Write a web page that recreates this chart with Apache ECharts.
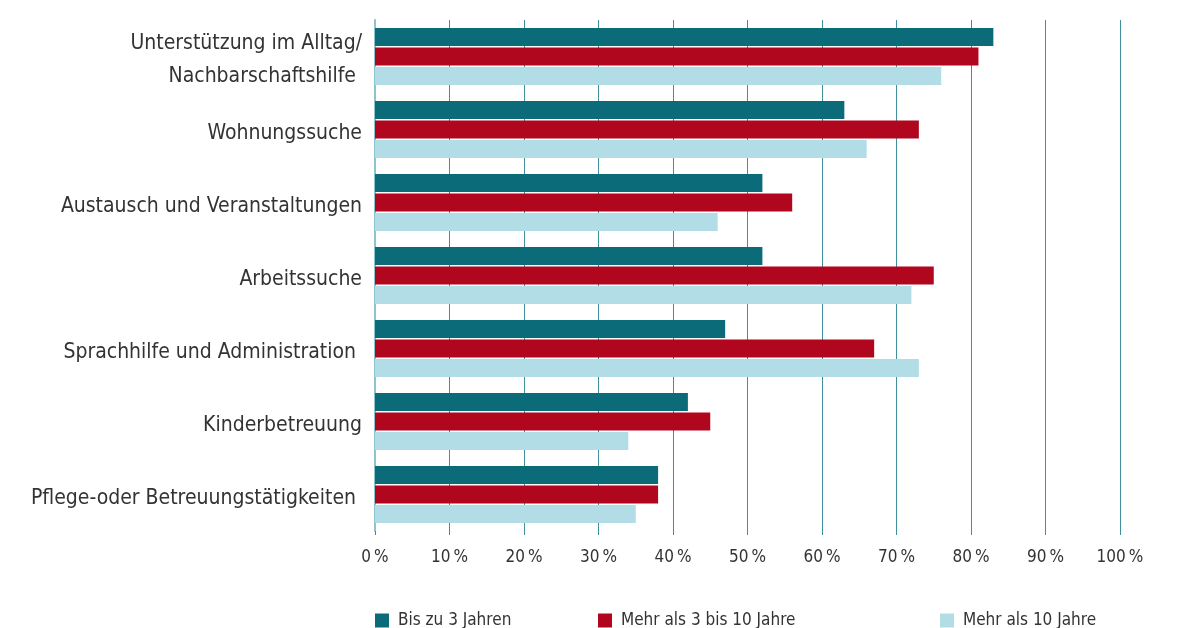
<!DOCTYPE html>
<html>
<head>
<meta charset="utf-8">
<script src="https://cdn.jsdelivr.net/npm/echarts@6/dist/echarts.min.js"></script>
<style>
  html, body { margin: 0; padding: 0; background: #fff; }
  #chart { width: 1177px; height: 628px; }
</style>
</head>
<body>
<div id="chart"></div>
<script>
const categories = [
  "Unterstützung im Alltag/\nNachbarschaftshilfe ",
  "Wohnungssuche",
  "Austausch und Veranstaltungen",
  "Arbeitssuche",
  "Sprachhilfe und Administration ",
  "Kinderbetreuung",
  "Pflege-oder Betreuungstätigkeiten "
]
const seriesNames = ["Bis zu 3 Jahren", "Mehr als 3 bis 10 Jahre", "Mehr als 10 Jahre"]
const bisZu3 = [83, 63, 52, 52, 47, 42, 38]
const mehr3bis10 = [81, 73, 56, 75, 67, 45, 38]
const mehr10 = [76, 66, 46, 72, 73, 34, 35]
const xTicks = [0, 10, 20, 30, 40, 50, 60, 70, 80, 90, 100]

const colors = ["#0b6b78", "#b0061e", "#b2dde7"]
const font = "'Liberation Sans Narrow', 'DejaVu Sans Condensed', sans-serif"

const chart = echarts.init(document.getElementById("chart"))

const legendBase = {
  top: 607,
  itemWidth: 14,
  itemHeight: 14,
  icon: "rect",
  selectedMode: false,
  textStyle: { fontFamily: font, fontSize: 17, color: "#333", padding: [0, 0, 0, 4] }
}

const options = {
  animation: false,
  grid: {
    left: 375,
    right: 57,
    top: 20,
    height: 511,
    containLabel: false
  },
  legend: [
    Object.assign({}, legendBase, { left: 370, data: [seriesNames[0]] }),
    Object.assign({}, legendBase, { left: 593, data: [seriesNames[1]] }),
    Object.assign({}, legendBase, { left: 935, data: [seriesNames[2]] })
  ],
  xAxis: {
    type: "value",
    min: 0,
    max: 100,
    interval: 10,
    axisLine: { show: false },
    axisTick: { show: true, length: 4, lineStyle: { color: "#3f8f9e" } },
    splitLine: { show: true, lineStyle: { color: "#3f8f9e", width: 1 } },
    axisLabel: {
      margin: 18,
      fontFamily: font,
      fontSize: 17,
      color: "#333",
      formatter: (v) => (xTicks.includes(v) ? v + "\u2009%" : "")
    }
  },
  yAxis: {
    type: "category",
    inverse: true,
    data: categories,
    axisLine: { show: true, lineStyle: { color: "#8fc3cc", width: 2 } },
    axisTick: { show: false },
    axisLabel: {
      margin: 13,
      fontFamily: font,
      fontSize: 21,
      color: "#333",
      formatter: (v) => "{pad|}\n" + v.split("\n").map((s) => "{t|" + s + "}").join("\n"),
      rich: {
        pad: { height: 8, lineHeight: 8 },
        t: { fontFamily: font, fontSize: 21, color: "#333", lineHeight: 33 }
      }
    }
  },
  series: [
    { name: seriesNames[0], type: "bar", data: bisZu3, barWidth: 18, barGap: "8%", itemStyle: { color: colors[0] } },
    { name: seriesNames[1], type: "bar", data: mehr3bis10, barWidth: 18, barGap: "8%", itemStyle: { color: colors[1] } },
    { name: seriesNames[2], type: "bar", data: mehr10, barWidth: 18, barGap: "8%", itemStyle: { color: colors[2] } }
  ]
}

chart.setOption(options)
</script>
</body>
</html>
